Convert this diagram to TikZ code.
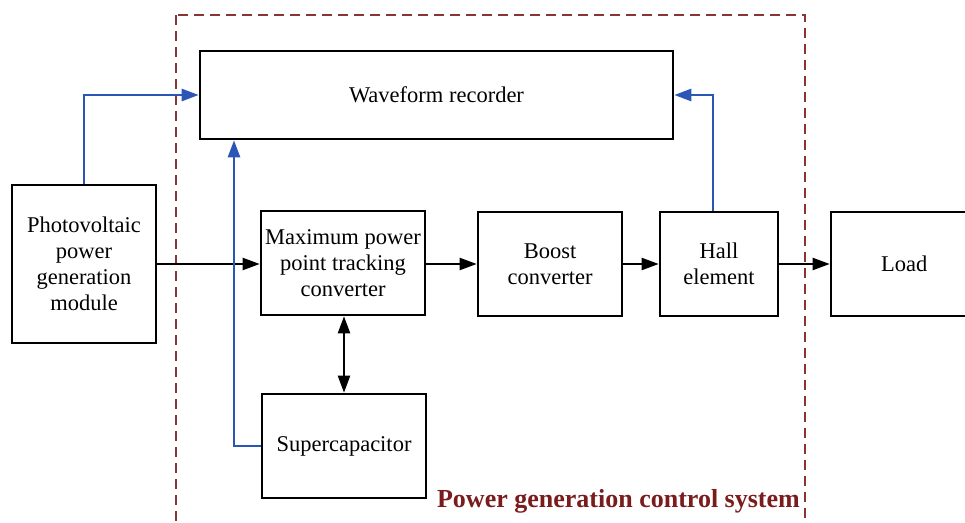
\documentclass[tikz,border=0pt]{standalone}
\usepackage{fontspec}
\setmainfont{Liberation Serif}
\usetikzlibrary{arrows.meta}
\definecolor{lineblue}{HTML}{2B56B5}
\definecolor{titlered}{HTML}{7A1C1C}
\definecolor{dashred}{HTML}{8A3535}
\tikzset{
  blk/.style={draw=black, line width=2.6pt, rectangle, align=center, inner sep=0pt,
    font=\fontsize{22.5}{26}\selectfont},
  tip/.tip={Triangle[length=17pt,width=12pt]},
  arr/.style={line width=2.2pt, -tip},
  barr/.style={line width=2.2pt, tip-tip},
  bluearr/.style={draw=lineblue, line width=2.6pt, -tip, color=lineblue},
}
\begin{document}
\begin{tikzpicture}[x=1pt,y=-1pt]
\clip (0,0) rectangle (965,522);
\fill[white] (0,0) rectangle (965,522);
% dashed system boundary
\draw[dashred, line width=2pt, dash pattern=on 10pt off 6pt] (176,15) rectangle (805,560);
% blocks
\node[blk, minimum width=473pt, minimum height=88pt] (wave) at (436.5,95) {Waveform recorder};
\node[blk, minimum width=144pt, minimum height=158pt] (pv) at (84,264) {Photovoltaic\\power\\generation\\module};
\node[blk, minimum width=164pt, minimum height=104pt] (mppt) at (343,263) {Maximum power\\point tracking\\converter};
\node[blk, minimum width=144pt, minimum height=104pt] (boost) at (550,264) {Boost\\converter};
\node[blk, minimum width=118pt, minimum height=104pt] (hall) at (719,264) {Hall\\element};
\node[blk, minimum width=140pt, minimum height=104pt, text width=140pt, align=left] (load) at (901,264) {\hspace*{50pt}Load};
\node[blk, minimum width=164pt, minimum height=104pt] (sc) at (344,446) {Supercapacitor};
\node[anchor=base east, font=\fontsize{26}{30}\selectfont\bfseries, text=titlered, inner sep=0pt] (title) at (800,507) {Power generation control system};
\coordinate (bx) at (234,0);
\coordinate (hx) at (713,0);
% black power flow
\draw[arr] (pv.east |- 0,264) -- (mppt.west |- 0,264);
\draw[arr] (mppt.east |- 0,264) -- (boost.west |- 0,264);
\draw[arr] (boost.east |- 0,264) -- (hall.west |- 0,264);
\draw[arr] (hall.east |- 0,264) -- (load.west |- 0,264);
\draw[barr] (mppt.south -| sc.north) -- (sc.north);
% blue measurement lines
\draw[bluearr] (pv.north) |- (wave.west);
\draw[bluearr] (sc.west) -| (wave.south -| bx);
\draw[bluearr] (hall.north -| hx) |- (wave.east);
\end{tikzpicture}
\end{document}
